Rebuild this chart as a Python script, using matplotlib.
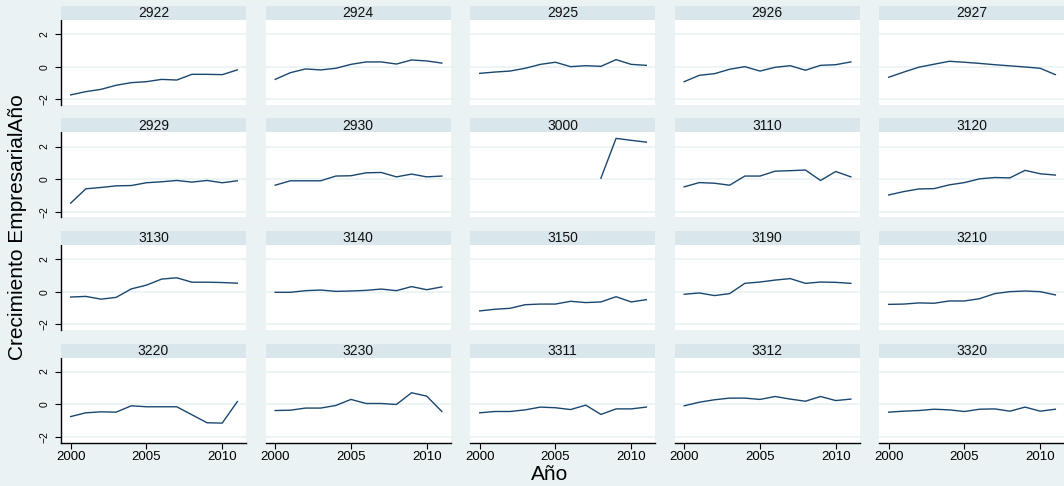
import numpy as np
import matplotlib
matplotlib.use("Agg")
import matplotlib.pyplot as plt
from matplotlib.patches import Rectangle

plt.rcParams["font.family"] = ["Liberation Sans", "DejaVu Sans"]

years = list(range(2000, 2012))
nan = np.nan

panel_ids = ["2922", "2924", "2925", "2926", "2927",
             "2929", "2930", "3000", "3110", "3120",
             "3130", "3140", "3150", "3190", "3210",
             "3220", "3230", "3311", "3312", "3320"]

g2922 = [-1.73, -1.53, -1.39, -1.14, -0.98, -0.92, -0.78, -0.82, -0.47, -0.47, -0.49, -0.20]
g2924 = [-0.78, -0.37, -0.14, -0.20, -0.10, 0.14, 0.29, 0.29, 0.16, 0.41, 0.35, 0.22]
g2925 = [-0.41, -0.33, -0.27, -0.10, 0.14, 0.27, 0.00, 0.06, 0.02, 0.43, 0.14, 0.08]
g2926 = [-0.92, -0.53, -0.43, -0.16, 0.00, -0.27, -0.04, 0.06, -0.22, 0.08, 0.12, 0.29]
g2927 = [-0.65, -0.33, -0.03, 0.15, 0.33, 0.27, 0.20, 0.12, 0.05, -0.02, -0.10, -0.49]
g2929 = [-1.47, -0.59, -0.51, -0.41, -0.39, -0.22, -0.16, -0.08, -0.18, -0.08, -0.22, -0.10]
g2930 = [-0.37, -0.10, -0.10, -0.10, 0.19, 0.21, 0.39, 0.41, 0.14, 0.31, 0.14, 0.19]
g3000 = [nan, nan, nan, nan, nan, nan, nan, nan, 0.06, 2.50, 2.38, 2.27]
g3110 = [-0.47, -0.21, -0.25, -0.37, 0.19, 0.19, 0.49, 0.52, 0.56, -0.08, 0.47, 0.14]
g3120 = [-0.97, -0.76, -0.60, -0.58, -0.35, -0.21, 0.02, 0.10, 0.08, 0.54, 0.33, 0.25]
g3130 = [-0.33, -0.29, -0.46, -0.35, 0.17, 0.40, 0.77, 0.85, 0.58, 0.58, 0.56, 0.52]
g3140 = [-0.04, -0.04, 0.06, 0.10, 0.02, 0.04, 0.08, 0.16, 0.06, 0.31, 0.12, 0.29]
g3150 = [-1.18, -1.08, -1.02, -0.80, -0.76, -0.76, -0.59, -0.67, -0.63, -0.31, -0.63, -0.49]
g3190 = [-0.16, -0.08, -0.24, -0.12, 0.51, 0.59, 0.71, 0.80, 0.51, 0.59, 0.57, 0.51]
g3210 = [-0.78, -0.76, -0.69, -0.71, -0.57, -0.57, -0.43, -0.12, 0.00, 0.04, 0.00, -0.20]
g3220 = [-0.76, -0.53, -0.47, -0.49, -0.10, -0.16, -0.16, -0.16, -0.65, -1.14, -1.16, 0.16]
g3230 = [-0.39, -0.37, -0.24, -0.24, -0.08, 0.29, 0.04, 0.04, -0.02, 0.70, 0.49, -0.45]
g3311 = [-0.53, -0.45, -0.45, -0.35, -0.18, -0.22, -0.33, -0.06, -0.63, -0.29, -0.29, -0.18]
g3312 = [-0.10, 0.12, 0.27, 0.37, 0.37, 0.29, 0.47, 0.31, 0.18, 0.47, 0.22, 0.31]
g3320 = [-0.49, -0.43, -0.39, -0.31, -0.35, -0.45, -0.31, -0.29, -0.43, -0.18, -0.43, -0.31]

series = [g2922, g2924, g2925, g2926, g2927,
          g2929, g2930, g3000, g3110, g3120,
          g3130, g3140, g3150, g3190, g3210,
          g3220, g3230, g3311, g3312, g3320]

W, H = 1064, 486
bg = "#eaf2f3"
strip = "#d9e6eb"
navy = "#1a476f"

fig = plt.figure(figsize=(W / 100, H / 100), dpi=100, facecolor=bg)


def fx(px):
    return px / W


def fy(py):
    return 1 - py / H


for k, (pid, vals) in enumerate(zip(panel_ids, series)):
    r, c = divmod(k, 5)
    left = 61 + 204.5 * c
    top = 20 + 112.5 * r
    pw, ph = 185, 85

    # header strip above each panel
    fig.patches.append(Rectangle((fx(left), fy(top)), pw / W, 14 / H,
                                 transform=fig.transFigure, facecolor=strip,
                                 edgecolor="none", zorder=0))
    fig.text(fx(left + pw / 2), fy(top - 7), pid, ha="center", va="center",
             fontsize=10, color="#111111")

    ax = fig.add_axes([fx(left), fy(top + ph), pw / W, ph / H])
    ax.set_facecolor("white")
    ax.plot(years, vals, color=navy, lw=1.0)
    ax.set_xlim(1999.36, 2011.57)
    ax.set_ylim(-2.35, 2.86)
    for gy in (-2, 0, 2):
        ax.axhline(gy, color=bg, lw=1.2, zorder=0)

    for s in ax.spines.values():
        s.set_visible(False)

    ax.set_yticks([-2, 0, 2])
    ax.set_xticks([2000, 2005, 2010])
    if c == 0:
        ax.spines["left"].set_visible(True)
        ax.spines["left"].set_color("black")
        ax.spines["left"].set_linewidth(1.0)
        ax.tick_params(axis="y", length=4, width=0.8, pad=4, labelsize=7.5,
                       labelrotation=90)
        for lab in ax.get_yticklabels():
            lab.set_va("center")
    else:
        ax.tick_params(axis="y", left=False, labelleft=False)
    if r == 3:
        ax.spines["bottom"].set_visible(True)
        ax.spines["bottom"].set_color("black")
        ax.spines["bottom"].set_linewidth(1.0)
        ax.tick_params(axis="x", length=4, width=0.8, pad=2, labelsize=9.5)
    else:
        ax.tick_params(axis="x", bottom=False, labelbottom=False)

fig.text(fx(18), fy(227), "Crecimiento EmpresarialAño", rotation=90,
         ha="center", va="center", fontsize=15,
         family=["Liberation Sans Narrow", "Liberation Sans", "DejaVu Sans"])
fig.text(fx(550), fy(474), "Año", ha="center", va="center", fontsize=15)

fig.savefig("out.png", dpi=100, facecolor=bg)
